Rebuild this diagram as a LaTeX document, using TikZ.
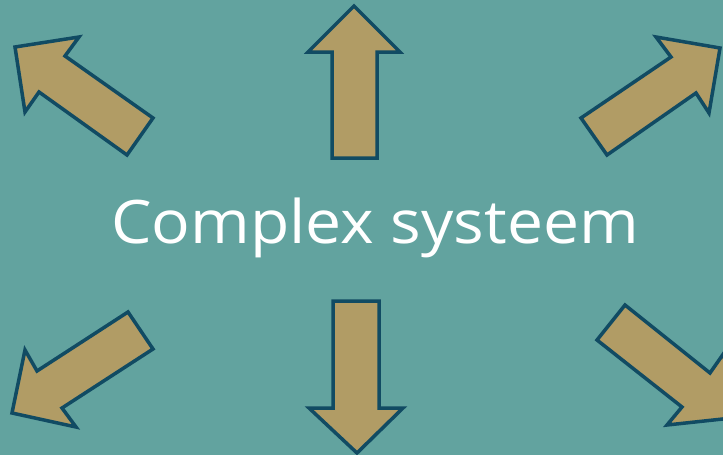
\documentclass[tikz,border=0pt]{standalone}
\usepackage{fontspec}
\setmainfont{Open Sans}
\newfontfamily\titelfont[FakeStretch=1.07]{Open Sans}
\definecolor{achtergrond}{HTML}{62A39F}
\definecolor{pijlvulling}{HTML}{B19C65}
\definecolor{pijlrand}{HTML}{114B63}
\begin{document}
\begin{tikzpicture}[x=1pt,y=-1pt,
    pijl/.style={fill=pijlvulling,draw=pijlrand,line width=3.5pt,line join=miter}]
    \fill[achtergrond] (0,0) rectangle (723,455);
    \useasboundingbox (0,0) rectangle (723,455);
    \clip (0,0) rectangle (723,455);
    % pijlen boven
    \draw[pijl] (15,47)--(79,37)--(65,56)--(153,118)--(127,155)--(39,92)--(25,112)--cycle;
    \draw[pijl] (354,6)--(400,52)--(377,52)--(377,158)--(332,158)--(332,52)--(308,52)--cycle;
    \draw[pijl] (720,48)--(709,113)--(696,93)--(607,155)--(581,118)--(671,57)--(656,37)--cycle;
    % pijlen onder
    \draw[pijl] (12,413)--(25,350)--(37,371)--(128,312)--(153,349)--(62,408)--(76,427)--cycle;
    \draw[pijl] (357,453)--(403,408)--(379,408)--(379,301)--(333,301)--(333,408)--(309,408)--cycle;
    \draw[pijl] (732,418)--(667,425)--(682,407)--(597,340)--(625,305)--(710,373)--(724,353)--cycle;
    % tekst
    \node[anchor=base,text=white,inner sep=0pt] (titel) at (375,243) {\titelfont\fontsize{60}{72}\selectfont Complex systeem};
\end{tikzpicture}
\end{document}
